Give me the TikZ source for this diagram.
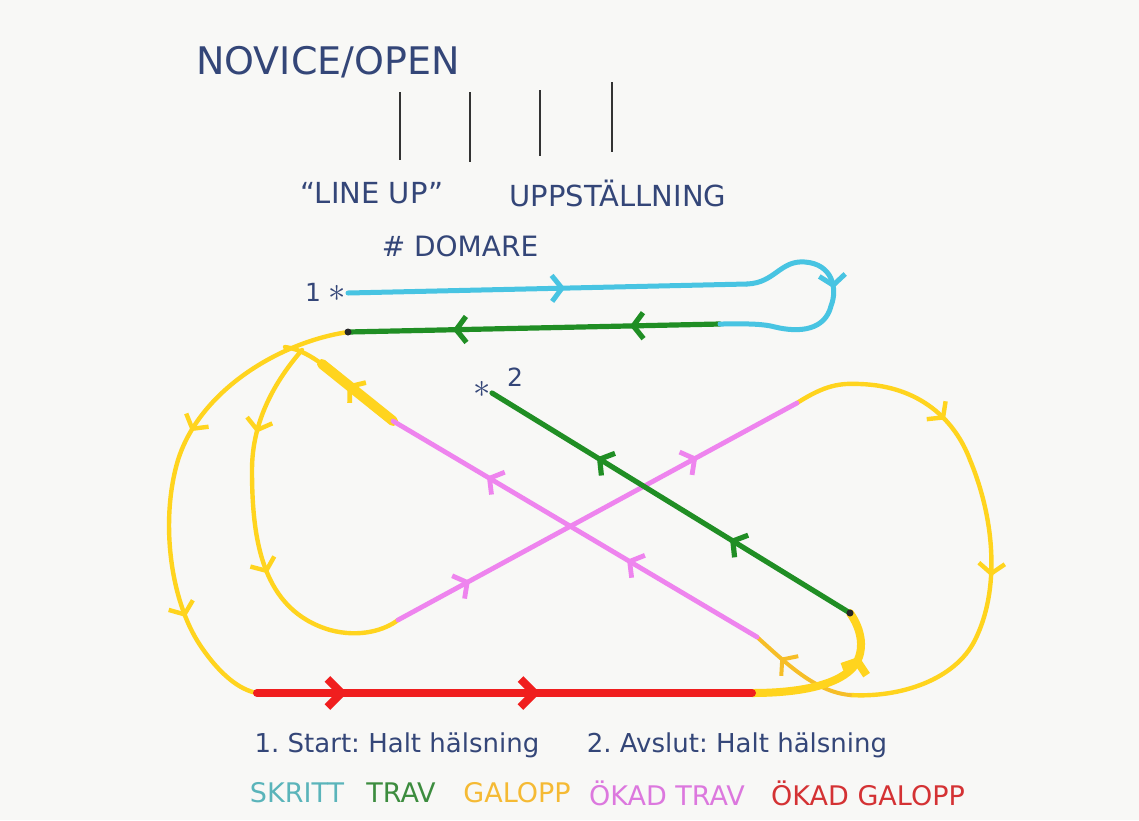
\documentclass[tikz,border=0pt]{standalone}
\usepackage{fontspec}
\setmainfont{DejaVu Sans}
\usetikzlibrary{arrows.meta,decorations.markings}
\frenchspacing
\definecolor{paper}{RGB}{248,248,246}
\definecolor{ink}{RGB}{52,70,120}
\definecolor{skrittc}{RGB}{72,196,226}
\definecolor{travc}{RGB}{32,142,36}
\definecolor{galoppc}{RGB}{255,212,30}
\definecolor{galoppdk}{RGB}{246,190,40}
\definecolor{oktravc}{RGB}{238,132,238}
\definecolor{okgalc}{RGB}{240,30,30}
\definecolor{legskritt}{RGB}{90,180,186}
\definecolor{legtrav}{RGB}{60,140,62}
\definecolor{leggalopp}{RGB}{245,186,52}
\definecolor{legoktrav}{RGB}{220,120,222}
\definecolor{legokgal}{RGB}{212,50,52}
\tikzset{
    >=Stealth,
    chev/.tip={Straight Barb[length=5pt,width=13pt]},
    bigchev/.tip={Straight Barb[length=7pt,width=14pt]},
    dir/.style={postaction={decorate}, decoration={markings, mark=at position #1 with {\arrow{chev}}}},
    dirtwo/.style 2 args={postaction={decorate}, decoration={markings,
        mark=at position #1 with {\arrow{chev}}, mark=at position #2 with {\arrow{chev}}}},
    route/.style={line width=#1, line cap=round, line join=round},
    skritt/.style={draw=skrittc, route=2.5pt},
    trav/.style={draw=travc, route=2.6pt},
    galopp/.style={draw=galoppc, route=2.2pt},
    oktrav/.style={draw=oktravc, route=2.4pt},
    okgalopp/.style={draw=okgalc, route=4pt},
    tick/.style={draw=black!80, line width=0.7pt},
    inktext/.style={text=ink, inner sep=0pt, font=\fontsize{#1}{#1}\selectfont},
    starmark/.style={text=ink, inner sep=0pt, font=\fontsize{17}{17}\selectfont},
    legend/.style={inner sep=0pt, font=\fontsize{13.5}{13.5}\selectfont}
}
\begin{document}
\begin{tikzpicture}[x=0.5pt, y=-0.5pt]
    \fill[paper] (0,0) rectangle (1139,820);
    \useasboundingbox (0,0) rectangle (1139,820);

    \node[inktext=19] (title) at (328,62) {NOVICE/OPEN};
    \foreach \x/\a/\b in {400/92/160, 470/92/162, 540/90/156, 612/82/152}
        \draw[tick] (\x,\a) -- (\x,\b);
    \node[inktext=14.5] (lineup) at (372,193) {“LINE UP”};
    \node[inktext=14.5] (uppst) at (618,193) {UPPSTÄLLNING};
    \node[inktext=14] (domare) at (460,246) {\# DOMARE};

    \coordinate (s1) at (348,293);
    \coordinate (sk) at (747,284);
    \coordinate (tv) at (720,324);
    \coordinate (g1) at (348,332);
    \coordinate (jn) at (302,350);
    \coordinate (r0) at (257,693);
    \coordinate (r1) at (752,693);
    \coordinate (g2) at (850,613);
    \coordinate (s2) at (492,393);
    \coordinate (m0) at (398,620);
    \coordinate (m1) at (797,403);
    \coordinate (m2) at (757,637);
    \coordinate (m3) at (393,421);
    \coordinate (th) at (322,364);
    \coordinate (rb) at (850,695);

    \node[inktext=12.5] (one) at (313,292) {1};
    \node[starmark] (star1) at (337,293) {$\ast$};
    \node[inktext=12.5] (two) at (515,377) {2};
    \node[starmark] (star2) at (482,389) {$\ast$};

    \draw[galopp, dirtwo={0.39}{0.78}] (g1) .. controls (280,342) and (200,390) .. (178,460)
        .. controls (160,520) and (170,600) .. (200,645) .. controls (220,675) and (240,690) .. (r0);
    \draw[galopp, dirtwo={0.24}{0.6}] (jn) .. controls (276,380) and (252,420) .. (252,470)
        .. controls (252,540) and (262,610) .. (330,630) .. controls (360,638) and (385,630) .. (m0);
    \draw[galopp, dirtwo={0.30}{0.61}] (m1) .. controls (825,385) and (840,383) .. (860,384)
        .. controls (920,386) and (955,420) .. (970,460) .. controls (995,520) and (1000,590) .. (975,640)
        .. controls (955,680) and (900,698) .. (rb);
    \draw[draw=galoppdk, route=2pt, dir=0.72] (rb) .. controls (815,692) and (785,662) .. (m2);
    \draw[galopp] (th) .. controls (312,357) and (300,349) .. (285,347);
    \draw[galopp, line width=5pt, postaction={decorate}, decoration={markings,
        mark=at position 0.64 with {\arrow[line width=2.4pt]{chev}}}] (m3) -- (th);
    \draw[galopp, line width=4pt, dir=0.72] (r1) .. controls (800,693) and (840,685) .. (855,665)
        .. controls (865,650) and (862,630) .. (g2);

    \draw[oktrav, dirtwo={0.18}{0.75}] (m0) -- (m1);
    \draw[oktrav, dirtwo={0.357}{0.742}] (m2) -- (m3);

    \draw[trav, dirtwo={0.335}{0.707}] (g2) -- (s2);
    \draw[trav, dirtwo={0.242}{0.718}] (tv) -- (g1);
    \fill[black!85] (g1) circle (3.5) (g2) circle (3.5);

    \draw[okgalopp, postaction={decorate}, decoration={markings,
        mark=at position 0.182 with {\arrow{bigchev}}, mark=at position 0.572 with {\arrow{bigchev}}}] (r0) -- (r1);

    \draw[skritt, dir=0.544] (s1) -- (sk);
    \draw[skritt, dir=0.43] (sk) .. controls (775,283) and (780,260) .. (805,262)
        .. controls (832,264) and (838,288) .. (831,306) .. controls (825,330) and (800,333) .. (775,327)
        .. controls (760,323) and (740,324) .. (tv);

    \node[inktext=13] (start) at (397,745) {1. Start: Halt hälsning};
    \node[inktext=13] (avslut) at (737,745) {2. Avslut: Halt hälsning};

    \node[legend, text=legskritt] (lskritt) at (297,793) {SKRITT};
    \node[legend, text=legtrav] (ltrav) at (401,793) {TRAV};
    \node[legend, text=leggalopp] (lgalopp) at (517,793) {GALOPP};
    \node[legend, text=legoktrav] (loktrav) at (667,793) {ÖKAD TRAV};
    \node[legend, text=legokgal] (lokgal) at (868,793) {ÖKAD GALOPP};
\end{tikzpicture}
\end{document}
